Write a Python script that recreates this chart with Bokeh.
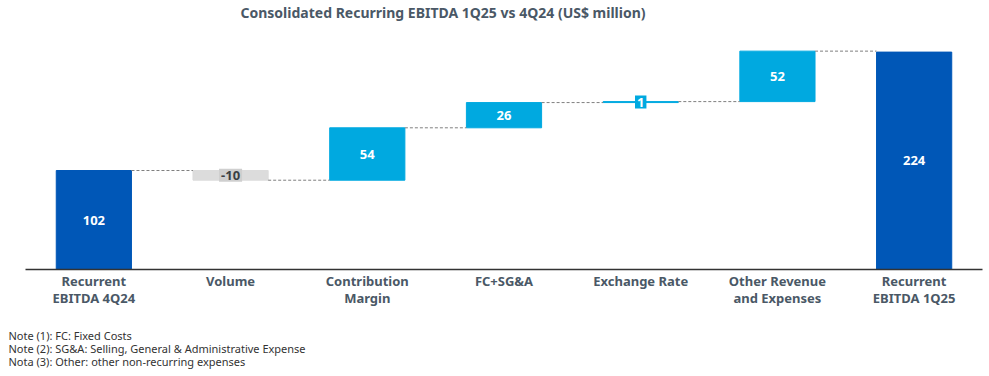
from bokeh.plotting import figure
from bokeh.models import Range1d, ColumnDataSource, Title, FixedTicker
from bokeh.embed import file_html
from bokeh.resources import INLINE
from bokeh.core.properties import value

categories = ["Recurrent EBITDA 4Q24", "Volume", "Contribution Margin", "FC+SG&A",
              "Exchange Rate", "Other Revenue and Expenses", "Recurrent EBITDA 1Q25"]
tick_labels = ["Recurrent\nEBITDA 4Q24", "Volume", "Contribution\nMargin", "FC+SG&A",
               "Exchange Rate", "Other Revenue\nand Expenses", "Recurrent\nEBITDA 1Q25"]
values = [102, -10, 54, 26, 1, 52, 224]
is_total = [True, False, False, False, False, False, True]
notes = ["Note (1): FC: Fixed Costs",
         "Note (2): SG&A: Selling, General & Administrative Expense",
         "Nota (3): Other: other non-recurring expenses"]
title_text = "Consolidated Recurring EBITDA 1Q25 vs 4Q24 (US$ million)"

DARK = "#0057b7"
LIGHT = "#00a9e0"
GREY = "#dcdcdc"
TXT = "#4a5866"
FONT = "Noto Sans"

# waterfall geometry
xs, bottoms, tops, colors = [], [], [], []
running = 0
for i, (v, t) in enumerate(zip(values, is_total)):
    xs.append(i + 0.5)
    if t:
        bottoms.append(0); tops.append(v); running = v; colors.append(DARK)
    else:
        b, e = running, running + v
        bottoms.append(min(b, e)); tops.append(max(b, e)); running = e
        colors.append(LIGHT if v >= 0 else GREY)
levels = []
running = 0
for v, t in zip(values, is_total):
    running = v if t else running + v
    levels.append(running)

W = 0.55
src = ColumnDataSource(dict(x=xs, bottom=bottoms, top=tops, color=colors))

p = figure(width=989, height=376, output_backend="svg", toolbar_location=None,
           x_range=Range1d(0, 7), y_range=Range1d(0, 254.5),
           min_border_left=25, min_border_right=7, min_border_top=0, min_border_bottom=0)
p.outline_line_color = None
p.grid.visible = False
p.yaxis.visible = False

p.vbar(x="x", bottom="bottom", top="top", width=W, color="color", source=src)

# connectors
cx0 = [xs[i] + W / 2 for i in range(len(xs) - 1)]
cx1 = [xs[i + 1] - W / 2 for i in range(len(xs) - 1)]
cy = [levels[i] for i in range(len(xs) - 1)]
p.segment(x0=cx0, y0=cy, x1=cx1, y1=cy, line_color="#7f7f7f", line_width=1, line_dash="3 2")

# value labels
mid = [(b + t) / 2 for b, t in zip(bottoms, tops)]
lab = [str(v) for v in values]
big = [i for i, v in enumerate(values) if abs(v) > 5]
p.text(x=[xs[i] for i in big], y=[mid[i] for i in big], text=[lab[i] for i in big],
       text_color="white", text_font=value(FONT), text_font_style="bold",
       text_font_size="13px", text_align="center", text_baseline="middle")
neg = [i for i, v in enumerate(values) if v < 0]
pos_small = [i for i, v in enumerate(values) if 0 <= v <= 5]
p.text(x=[xs[i] for i in neg], y=[mid[i] for i in neg], text=[lab[i] for i in neg],
       text_color="#3a3f44", text_font=value(FONT), text_font_style="bold", text_font_size="13px",
       text_align="center", text_baseline="middle", background_fill_color="#cfcfcf", padding=2)
p.text(x=[xs[i] for i in pos_small], y=[mid[i] for i in pos_small], text=[lab[i] for i in pos_small],
       text_color="white", text_font=value(FONT), text_font_style="bold", text_font_size="13px",
       text_align="center", text_baseline="middle", background_fill_color=LIGHT, padding=2)

ax = p.xaxis[0]
ax.ticker = FixedTicker(ticks=xs)
ax.major_label_overrides = {x: l for x, l in zip(xs, tick_labels)}
ax.major_tick_line_color = None
ax.minor_tick_line_color = None
ax.major_tick_out = 0
ax.major_tick_in = 0
ax.axis_line_color = "#333333"
ax.axis_line_width = 1.5
ax.major_label_text_font = FONT
ax.major_label_text_font_style = "bold"
ax.major_label_text_font_size = "13px"
ax.major_label_text_color = TXT
ax.major_label_text_line_height = 0.95
ax.major_label_standoff = 2

p.title.text = title_text
p.title.align = "left"
p.title.offset = 215
p.title.text_font = FONT
p.title.text_font_style = "bold"
p.title.text_font_size = "14px"
p.title.text_color = TXT
p.title.standoff = 1

spacer = Title(text=" ", text_font_size="12px", standoff=0)
p.add_layout(spacer, "below")
note_title = Title(text="\n".join(notes), align="left", text_font=FONT, text_font_style="normal",
                   text_font_size="11px", text_line_height=0.85, text_color="#333333",
                   offset=-17, standoff=0)
p.add_layout(note_title, "below")
spacer2 = Title(text=" ", text_font_size="6px", standoff=0)
p.add_layout(spacer2, "below")

open("out.html", "w").write(file_html(p, INLINE))
